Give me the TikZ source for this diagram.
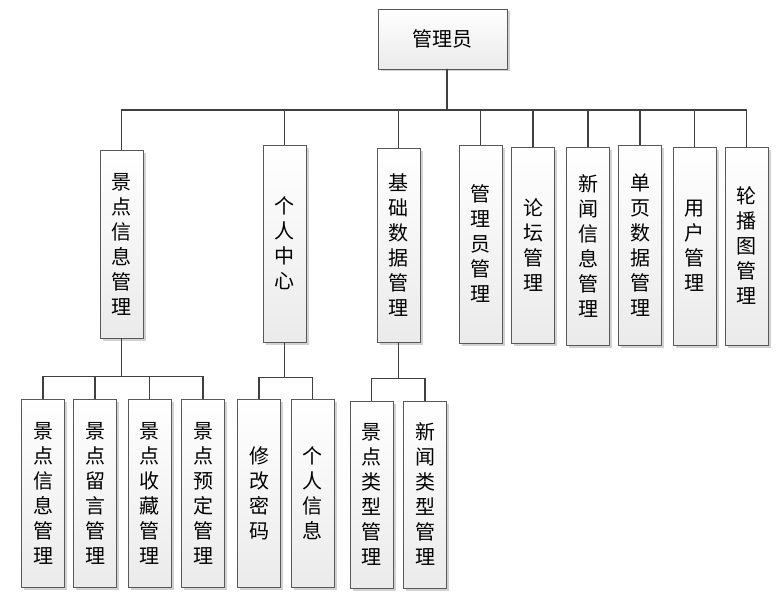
\documentclass[tikz,border=0pt]{standalone}
\usepackage{fontspec}
\newfontfamily\cjk{Noto Sans CJK SC}
\usepackage{tikz}
\usetikzlibrary{positioning}
\usetikzlibrary{shadows}
\tikzstyle{box} = [rectangle, draw=gray!70!black, line width=0.9pt, top color=white, bottom color=gray!16, drop shadow={shadow xshift=2.5pt, shadow yshift=-2.5pt, fill=gray!35, opacity=1}, inner sep=0pt, align=center, font=\cjk\fontsize{20}{25}\selectfont]
\tikzstyle{col} = [box, minimum width=43pt]
\tikzstyle{link} = [-, draw=black!75, line width=1.6pt]

\begin{document}
\begin{tikzpicture}[x=1pt, y=-1pt]
\useasboundingbox (0,0) rectangle (780,594);
% top
\node [box, minimum width=129pt, minimum height=60pt] (admin) at (442.5,39) {管理员};
\coordinate (root) at (447,69);
% second row
\node [col, minimum height=188pt] (jd) at (121.5,244) {景\\点\\信\\息\\管\\理};
\node [col, minimum height=197pt] (grzx) at (284.5,243.5) {个\\人\\中\\心};
\node [col, minimum height=194pt] (jc) at (398.5,245) {基\\础\\数\\据\\管\\理};
\node [col, minimum height=198pt] (gly) at (480.5,244) {管\\理\\员\\管\\理};
\node [col, minimum height=196pt] (lt) at (533,245) {论\\坛\\管\\理};
\node [col, minimum height=198pt] (xw) at (588,246) {新\\闻\\信\\息\\管\\理};
\node [col, minimum height=200pt] (dy) at (640,245) {单\\页\\数\\据\\管\\理};
\node [col, minimum height=198pt] (yh) at (694.5,246) {用\\户\\管\\理};
\node [col, minimum height=198pt] (lb) at (746.5,246) {轮\\播\\图\\管\\理};
% third row
\node [col, minimum height=188pt] (jdxx) at (43,493) {景\\点\\信\\息\\管\\理};
\node [col, minimum height=188pt] (jdly) at (95,493) {景\\点\\留\\言\\管\\理};
\node [col, minimum height=188pt] (jdsc) at (149.5,493) {景\\点\\收\\藏\\管\\理};
\node [col, minimum height=188pt] (jdyd) at (203,493) {景\\点\\预\\定\\管\\理};
\node [col, minimum height=188pt] (xgmm) at (259,493) {修\\改\\密\\码};
\node [col, minimum height=188pt] (grxx) at (312.5,493) {个\\人\\信\\息};
\node [col, minimum height=187pt] (jdlx) at (371.5,494.5) {景\\点\\类\\型\\管\\理};
\node [col, minimum height=187pt] (xwlx) at (425,494.5) {新\\闻\\类\\型\\管\\理};
% links
\foreach \n in {jd, grzx, jc, gly, lt, xw, dy, yh, lb}
  \draw [link] (root) -- ++(0,41) -| (\n.north);
\foreach \n in {jdxx, jdly, jdsc, jdyd}
  \draw [link] (jd.south) -- ++(0,38) -| (\n.north);
\foreach \n in {xgmm, grxx}
  \draw [link] (grzx.south) -- ++(0,35) -| (\n.north);
\foreach \n in {jdlx, xwlx}
  \draw [link] (jc.south) -- ++(0,36) -| (\n.north);
\end{tikzpicture}
\end{document}
